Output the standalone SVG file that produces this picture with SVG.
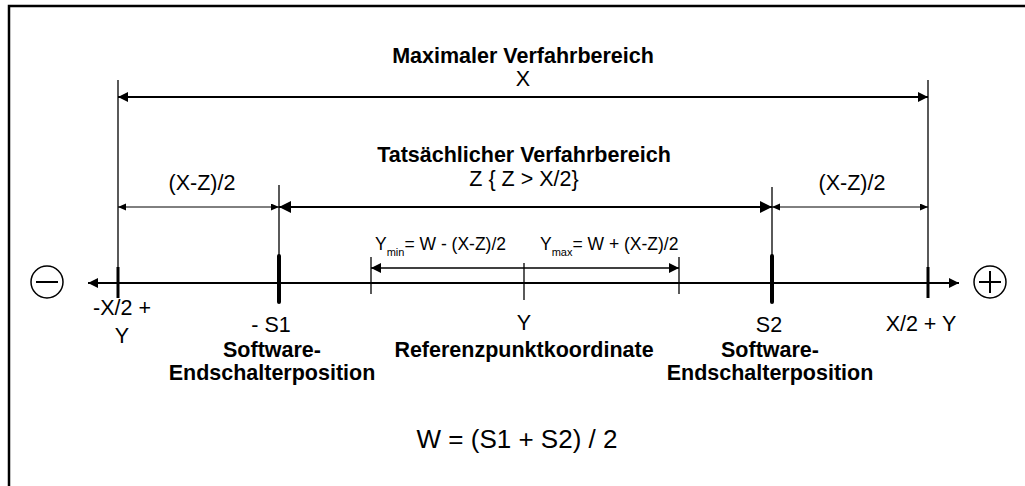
<svg xmlns="http://www.w3.org/2000/svg" width="1025" height="486" viewBox="0 0 1025 486">
<style>
.t{font-family:"Liberation Sans",Arial,sans-serif;font-size:21.5px;fill:#000}
.b{font-family:"Liberation Sans",Arial,sans-serif;font-size:21.5px;font-weight:bold;fill:#000}
.s{font-family:"Liberation Sans",Arial,sans-serif;font-size:17.5px;fill:#000}
.sub{font-size:11px}
.f{font-family:"Liberation Sans",Arial,sans-serif;font-size:26px;fill:#000}
.ln{stroke:#000;fill:none}
</style>
<defs>
<marker id="big" markerUnits="userSpaceOnUse" markerWidth="13" markerHeight="13" refX="12" refY="6" orient="auto-start-reverse"><path d="M0,0 L12,6 L0,12 z" fill="#000"/></marker>
<marker id="med" markerUnits="userSpaceOnUse" markerWidth="11" markerHeight="11" refX="10" refY="5" orient="auto-start-reverse"><path d="M0,0 L10,5 L0,10 z" fill="#000"/></marker>
<marker id="sm" markerUnits="userSpaceOnUse" markerWidth="9" markerHeight="9" refX="8" refY="3.5" orient="auto-start-reverse"><path d="M0,0 L8,3.5 L0,7 z" fill="#000"/></marker>
</defs>
<rect x="9" y="6" width="1040" height="500" fill="#fff" stroke="#000" stroke-width="2.5"/>

<g id="connectors">
<line class="ln" x1="88" y1="283" x2="959" y2="283" stroke-width="1.8" marker-start="url(#med)" marker-end="url(#med)"/>
<line class="ln" x1="118" y1="97" x2="928" y2="97" stroke-width="2" marker-start="url(#med)" marker-end="url(#med)"/>
<line class="ln" x1="279" y1="207" x2="772" y2="207" stroke-width="2" marker-start="url(#big)" marker-end="url(#big)"/>
<line class="ln" x1="118" y1="207" x2="279" y2="207" stroke-width="1" marker-start="url(#sm)" marker-end="url(#sm)"/>
<line class="ln" x1="772" y1="207" x2="928" y2="207" stroke-width="1" marker-start="url(#sm)" marker-end="url(#sm)"/>
<line class="ln" x1="371" y1="268" x2="679" y2="268" stroke-width="1.5" marker-start="url(#med)" marker-end="url(#med)"/>
</g>

<g id="ticks">
<line class="ln" x1="118" y1="80" x2="118" y2="298" stroke-width="1.3"/>
<line class="ln" x1="118" y1="267" x2="118" y2="298" stroke-width="3"/>
<line class="ln" x1="928" y1="80" x2="928" y2="298" stroke-width="1.3"/>
<line class="ln" x1="928" y1="267" x2="928" y2="298" stroke-width="3"/>
<line class="ln" x1="279" y1="185" x2="279" y2="256" stroke-width="1.3"/>
<line class="ln" x1="279" y1="256" x2="279" y2="302" stroke-width="4" stroke-linecap="round"/>
<line class="ln" x1="772" y1="187" x2="772" y2="256" stroke-width="1.3"/>
<line class="ln" x1="772" y1="256" x2="772" y2="302" stroke-width="4" stroke-linecap="round"/>
<line class="ln" x1="371" y1="257" x2="371" y2="294" stroke-width="1.3"/>
<line class="ln" x1="524" y1="263" x2="524" y2="300" stroke-width="1.3"/>
<line class="ln" x1="679" y1="257" x2="679" y2="294" stroke-width="1.3"/>
</g>

<g id="minus">
<circle cx="47" cy="282" r="16" class="ln" stroke-width="1.5"/>
<line class="ln" x1="36" y1="282" x2="58" y2="282" stroke-width="2"/>
</g>
<g id="plus">
<circle cx="990" cy="282" r="16" class="ln" stroke-width="1.5"/>
<line class="ln" x1="979" y1="282" x2="1001" y2="282" stroke-width="2"/>
<line class="ln" x1="990" y1="271" x2="990" y2="293" stroke-width="2"/>
</g>

<g id="labels-top">
<text class="b" x="523" y="63" text-anchor="middle">Maximaler Verfahrbereich</text>
<text class="t" x="523" y="86" text-anchor="middle">X</text>
<text class="b" x="524" y="162" text-anchor="middle">Tatsächlicher Verfahrbereich</text>
<text class="t" x="524" y="186" text-anchor="middle">Z { Z &gt; X/2}</text>
<text class="t" x="202" y="190" text-anchor="middle">(X-Z)/2</text>
<text class="t" x="852" y="190" text-anchor="middle">(X-Z)/2</text>
<text class="s" x="375" y="250">Y<tspan class="sub" dy="6">min</tspan><tspan dy="-6">= W - (X-Z)/2</tspan></text>
<text class="s" x="540" y="250">Y<tspan class="sub" dy="6">max</tspan><tspan dy="-6">= W + (X-Z)/2</tspan></text>
</g>

<g id="labels-axis">
<text class="t" x="122" y="315" text-anchor="middle">-X/2 +</text>
<text class="t" x="122" y="343" text-anchor="middle">Y</text>
<text class="t" x="271" y="332" text-anchor="middle">- S1</text>
<text class="b" x="272" y="357" text-anchor="middle">Software-</text>
<text class="b" x="272" y="380" text-anchor="middle">Endschalterposition</text>
<text class="t" x="524" y="330" text-anchor="middle">Y</text>
<text class="b" x="524" y="357" text-anchor="middle">Referenzpunktkoordinate</text>
<text class="t" x="769" y="332" text-anchor="middle">S2</text>
<text class="b" x="770" y="357" text-anchor="middle">Software-</text>
<text class="b" x="770" y="380" text-anchor="middle">Endschalterposition</text>
<text class="t" x="921" y="331" text-anchor="middle">X/2 + Y</text>
</g>

<g id="formula">
<text class="f" x="517" y="448" text-anchor="middle">W = (S1 + S2) / 2</text>
</g>
</svg>
